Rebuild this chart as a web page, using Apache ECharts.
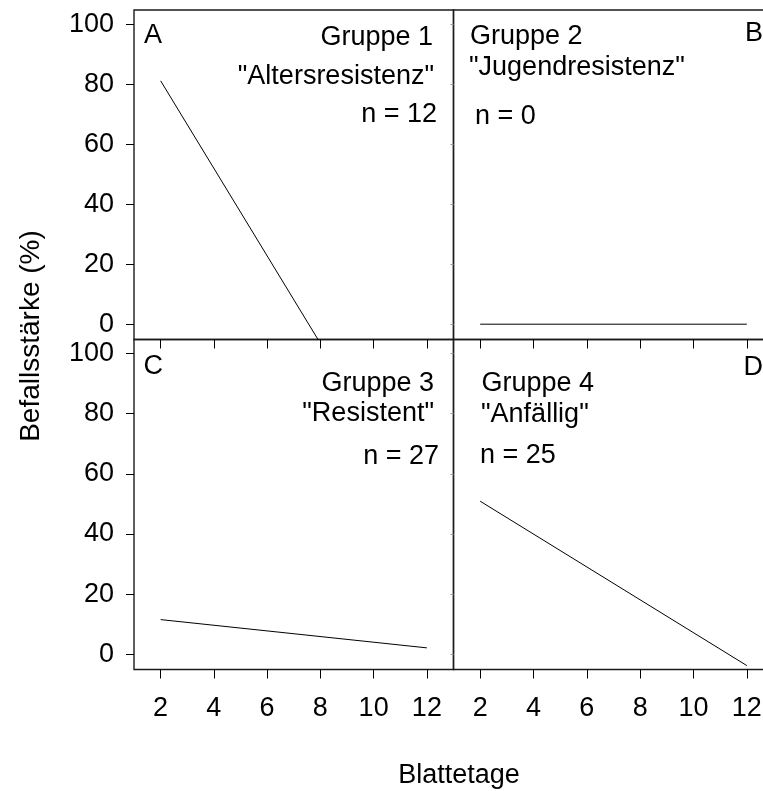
<!DOCTYPE html>
<html>
<head>
<meta charset="utf-8">
<script src="https://cdn.jsdelivr.net/npm/echarts@6/dist/echarts.min.js"></script>
<style>
html,body{margin:0;padding:0;background:#fff;}
#chart{width:763px;height:791px;}
</style>
</head>
<body>
<div id="chart"></div>
<script>
// ---- data ----
const xTicks = [2, 4, 6, 8, 10, 12];
const yTicks = [0, 20, 40, 60, 80, 100];
const days = [2, 12];
const gruppe1 = [81.1, -64.7];   // Altersresistenz (clipped at axis bottom)
const gruppe2 = [0, 0];          // Jugendresistenz
const gruppe3 = [11.5, 2.1];     // Resistent
const gruppe4 = [50.9, -3.8];    // Anfällig
const xTitle = 'Blattetage';
const yTitle = 'Befallsstärke (%)';

const FONT = 'Liberation Sans, Arial, sans-serif';
const FS = 27;

const grids = [
  {left: 134, top: 10, width: 319.5, height: 329.5},
  {left: 453.5, top: 10, width: 320, height: 329.5},
  {left: 134, top: 339.5, width: 319.5, height: 330},
  {left: 453.5, top: 339.5, width: 320, height: 330}
].map(g => Object.assign({show: true, borderColor: '#1a1a1a', borderWidth: 1.4,
  backgroundColor: 'transparent', containLabel: false, outerBoundsMode: 'none'}, g));

function xAx(i, labels) {
  return {
    type: 'value', gridIndex: i, min: 1, max: 13, position: 'bottom',
    axisLine: {show: false, onZero: false},
    splitLine: {show: false},
    axisTick: {show: true, customValues: xTicks, length: 9, inside: false, lineStyle: {color: '#000', width: 1}},
    axisLabel: {show: true, customValues: xTicks, margin: 26, fontSize: FS, fontFamily: FONT, color: '#000',
      formatter: labels ? (v => String(v)) : (() => '')}
  };
}
function yAx(i, left) {
  return {
    type: 'value', gridIndex: i, min: -5.1, max: 104.7, position: 'left',
    axisLine: {show: false, onZero: false},
    splitLine: {show: false},
    axisTick: {show: true, customValues: yTicks, length: left ? 8 : 3, inside: false,
      lineStyle: {color: left ? '#000' : '#999', width: 1}},
    axisLabel: {show: true, customValues: yTicks, margin: 20, fontSize: FS, fontFamily: FONT, color: '#000',
      formatter: left ? (v => String(v)) : (() => '')}
  };
}

const groups = [gruppe1, gruppe2, gruppe3, gruppe4];
const series = groups.map((vals, i) => ({
  type: 'line', xAxisIndex: i, yAxisIndex: i,
  data: days.map((d, k) => [d, vals[k]]),
  symbol: 'none', clip: true, silent: true, animation: false,
  lineStyle: {color: '#000', width: 1}
}));

function txt(text, x, y, align) {
  return {type: 'text', x: x, y: y, silent: true,
    style: {text: text, fill: '#000', font: FS + 'px ' + FONT, textAlign: align, textVerticalAlign: 'middle'}};
}

const graphics = [
  txt('A', 144, 36, 'left'),
  txt('Gruppe 1', 433, 38, 'right'),
  txt('"Altersresistenz"', 434, 77, 'right'),
  txt('n = 12', 437, 115, 'right'),
  txt('Gruppe 2', 470, 37, 'left'),
  txt('"Jugendresistenz"', 469, 67.5, 'left'),
  txt('n = 0', 475, 117, 'left'),
  txt('B', 745, 33.5, 'left'),
  txt('C', 143.5, 367, 'left'),
  txt('Gruppe 3', 434, 383.5, 'right'),
  txt('"Resistent"', 434, 414, 'right'),
  txt('n = 27', 439, 457, 'right'),
  txt('Gruppe 4', 481.5, 383.5, 'left'),
  txt('"Anfällig"', 481, 415, 'left'),
  txt('n = 25', 480, 455.5, 'left'),
  txt('D', 743.5, 367.5, 'left'),
  txt(xTitle, 459, 776, 'center'),
  {type: 'text', x: 31, y: 336, rotation: Math.PI / 2, silent: true,
    style: {text: yTitle, fill: '#000', font: '28px ' + FONT, textAlign: 'center', textVerticalAlign: 'middle'}}
];

const chart = echarts.init(document.getElementById('chart'), null, {renderer: 'canvas'});
chart.setOption({
  animation: false,
  backgroundColor: '#fff',
  grid: grids,
  xAxis: [xAx(0, false), xAx(1, false), xAx(2, true), xAx(3, true)],
  yAxis: [yAx(0, true), yAx(1, false), yAx(2, true), yAx(3, false)],
  series: series,
  graphic: graphics
});
</script>
</body>
</html>
